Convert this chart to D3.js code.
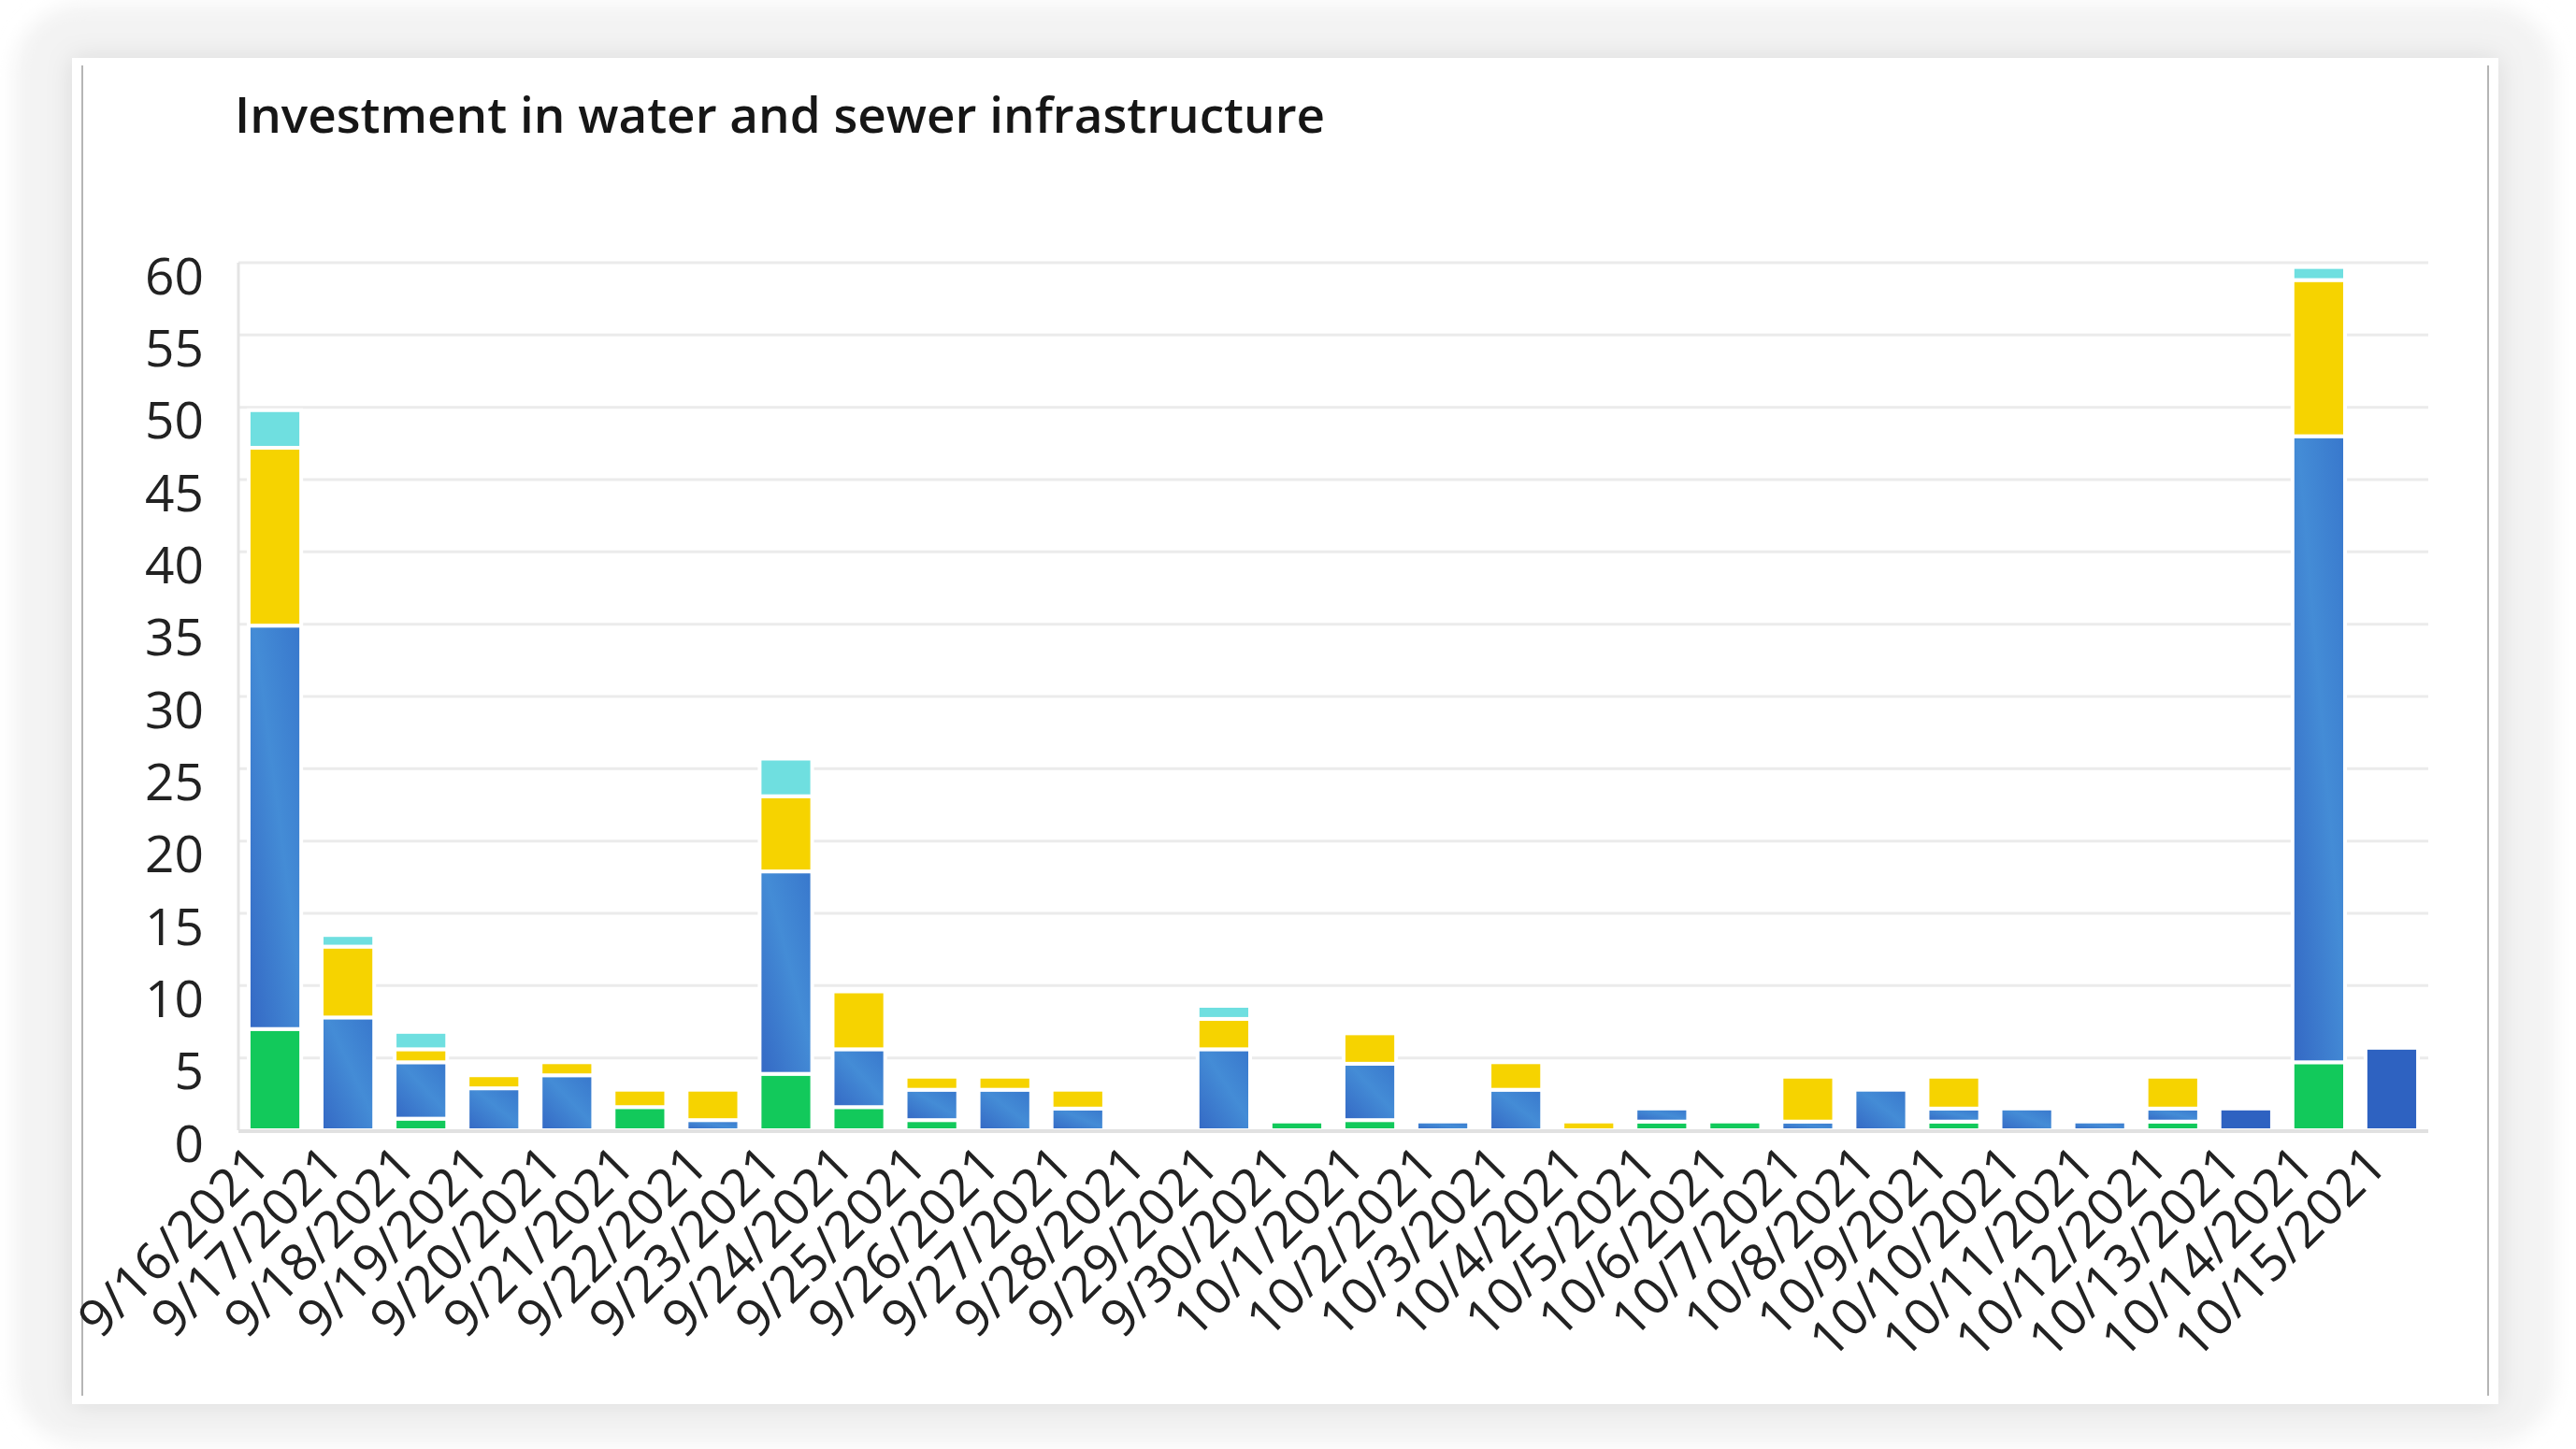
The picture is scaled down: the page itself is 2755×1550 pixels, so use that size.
<!DOCTYPE html>
<html>
<head>
<meta charset="utf-8">
<script src="https://cdn.jsdelivr.net/npm/d3@7"></script>
<style>
  html, body { margin: 0; padding: 0; background: #ffffff; }
  svg { display: block; }
</style>
</head>
<body>
<svg id="chart" width="2755" height="1550"></svg>
<script>
// ---- data ----
const dates = ["9/16/2021","9/17/2021","9/18/2021","9/19/2021","9/20/2021","9/21/2021","9/22/2021","9/23/2021","9/24/2021","9/25/2021","9/26/2021","9/27/2021","9/28/2021","9/29/2021","9/30/2021","10/1/2021","10/2/2021","10/3/2021","10/4/2021","10/5/2021","10/6/2021","10/7/2021","10/8/2021","10/9/2021","10/10/2021","10/11/2021","10/12/2021","10/13/2021","10/14/2021","10/15/2021"];
const green    = [7.0,0,0.8,0,0,1.6,0,3.9,1.6,0.7,0,0,0,0,0.6,0.7,0,0,0,0.6,0.6,0,0,0.6,0,0,0.6,0,4.7,0];
const blue     = [27.9,7.8,3.9,2.9,3.8,0,0.7,14.0,4.0,2.1,2.8,1.5,0,5.6,0,3.9,0.6,2.8,0,0.9,0,0.6,2.8,0.9,1.5,0.6,0.9,0,43.3,0];
const darkBlue = [0,0,0,0,0,0,0,0,0,0,0,0,0,0,0,0,0,0,0,0,0,0,0,0,0,0,0,1.5,0,5.7];
const yellow   = [12.3,4.9,0.9,0.9,0.9,1.2,2.1,5.2,4.0,0.9,0.9,1.3,0,2.1,0,2.1,0,1.9,0.6,0,0,3.1,0,2.2,0,0,2.2,0,10.8,0];
const cyan     = [2.6,0.8,1.2,0,0,0,0,2.6,0,0,0,0,0,0.9,0,0,0,0,0,0,0,0,0,0,0,0,0,0,0.9,0];
const yTicks   = [0,5,10,15,20,25,30,35,40,45,50,55,60];
const seriesKeys = ["green","blue","darkBlue","yellow","cyan"];
const title = "Investment in water and sewer infrastructure";

const table = dates.map((d, i) => ({
  date: d, green: green[i], blue: blue[i], darkBlue: darkBlue[i], yellow: yellow[i], cyan: cyan[i]
}));

const colors = {
  green: "#12c95b",
  blue: "url(#blueGrad)",
  darkBlue: "#2e62c1",
  yellow: "#f6d300",
  cyan: "#6fdfe0"
};

const svg = d3.select("#chart");
const defs = svg.append("defs");

// frame shadow
const f = defs.append("filter").attr("id", "blur").attr("x", "-10%").attr("y", "-10%").attr("width", "120%").attr("height", "120%");
f.append("feGaussianBlur").attr("stdDeviation", 10);
const cs = defs.append("filter").attr("id", "cardShadow").attr("x", "-5%").attr("y", "-5%").attr("width", "110%").attr("height", "110%");
cs.append("feDropShadow").attr("dx", 0).attr("dy", 0).attr("stdDeviation", 14).attr("flood-color", "#000").attr("flood-opacity", 0.10);

const g1 = defs.append("linearGradient").attr("id", "blueGrad")
  .attr("x1", 1).attr("y1", 0).attr("x2", 0).attr("y2", 1);
g1.append("stop").attr("offset", 0).attr("stop-color", "#3877cc");
g1.append("stop").attr("offset", 0.45).attr("stop-color", "#448cd6");
g1.append("stop").attr("offset", 1).attr("stop-color", "#3468c4");

// outer frame
svg.append("rect").attr("x", 16).attr("y", 6).attr("width", 2716).attr("height", 1538)
  .attr("rx", 70).attr("fill", "#f3f3f3").attr("filter", "url(#blur)");
// card
svg.append("rect").attr("x", 77).attr("y", 62).attr("width", 2595).attr("height", 1440)
  .attr("fill", "#ffffff").attr("filter", "url(#cardShadow)");
svg.append("line").attr("x1", 88).attr("x2", 88).attr("y1", 70).attr("y2", 1493)
  .attr("stroke", "#b5b5b5").attr("stroke-width", 2);
svg.append("line").attr("x1", 2661).attr("x2", 2661).attr("y1", 70).attr("y2", 1493)
  .attr("stroke", "#b5b5b5").attr("stroke-width", 2);

// title
svg.append("text").attr("x", 251).attr("y", 142)
  .attr("font-family", "'Open Sans', sans-serif").attr("font-weight", 600)
  .attr("font-size", 53).attr("fill", "#161616").text(title);

// scales
const x = d3.scaleBand().domain(dates).range([255, 2597]).paddingInner(0.28).paddingOuter(0.14);
const y = d3.scaleLinear().domain([0, 60]).range([1209, 281]);

// gridlines
svg.append("g").selectAll("line").data(yTicks.filter(t => t > 0)).join("line")
  .attr("x1", 255).attr("x2", 2597)
  .attr("y1", d => y(d)).attr("y2", d => y(d))
  .attr("stroke", "#ebebeb").attr("stroke-width", 3);

// left axis line
svg.append("line").attr("x1", 255).attr("x2", 255).attr("y1", 281).attr("y2", 1209)
  .attr("stroke", "#e4e4e4").attr("stroke-width", 3);

// y axis labels
const yAxis = d3.axisLeft(y).tickValues(yTicks).tickSize(0).tickPadding(0);
const ya = svg.append("g").attr("transform", "translate(218,14)").call(yAxis);
ya.select(".domain").remove();
ya.selectAll("text").attr("font-family", "'Open Sans', sans-serif").attr("font-size", 55)
  .attr("fill", "#222").attr("dy", "0.35em");

// stacked bars
const stack = d3.stack().keys(seriesKeys);
const layers = stack(table);
svg.append("g").selectAll("g").data(layers).join("g")
  .attr("fill", d => colors[d.key])
  .selectAll("rect").data(d => d.filter(s => s[1] - s[0] > 0)).join("rect")
  .attr("x", d => x(d.data.date))
  .attr("width", x.bandwidth())
  .attr("y", d => y(d[1]))
  .attr("height", d => y(d[0]) - y(d[1]))
  .attr("stroke", "#ffffff").attr("stroke-width", 4);

svg.append("line").attr("x1", 255).attr("x2", 2597).attr("y1", 1210).attr("y2", 1210)
  .attr("stroke", "#e1e1e1").attr("stroke-width", 4);

// x axis labels
const xAxis = d3.axisBottom(x).tickSize(0).tickPadding(0);
const xa = svg.append("g").attr("transform", "translate(0,1222)").call(xAxis);
xa.select(".domain").remove();
xa.selectAll("text")
  .attr("font-family", "'Open Sans', sans-serif").attr("font-size", 55).attr("fill", "#222")
  .attr("text-anchor", "end").attr("dy", "0.7em")
  .attr("transform", "translate(-30,0) rotate(-45)");
</script>
</body>
</html>
